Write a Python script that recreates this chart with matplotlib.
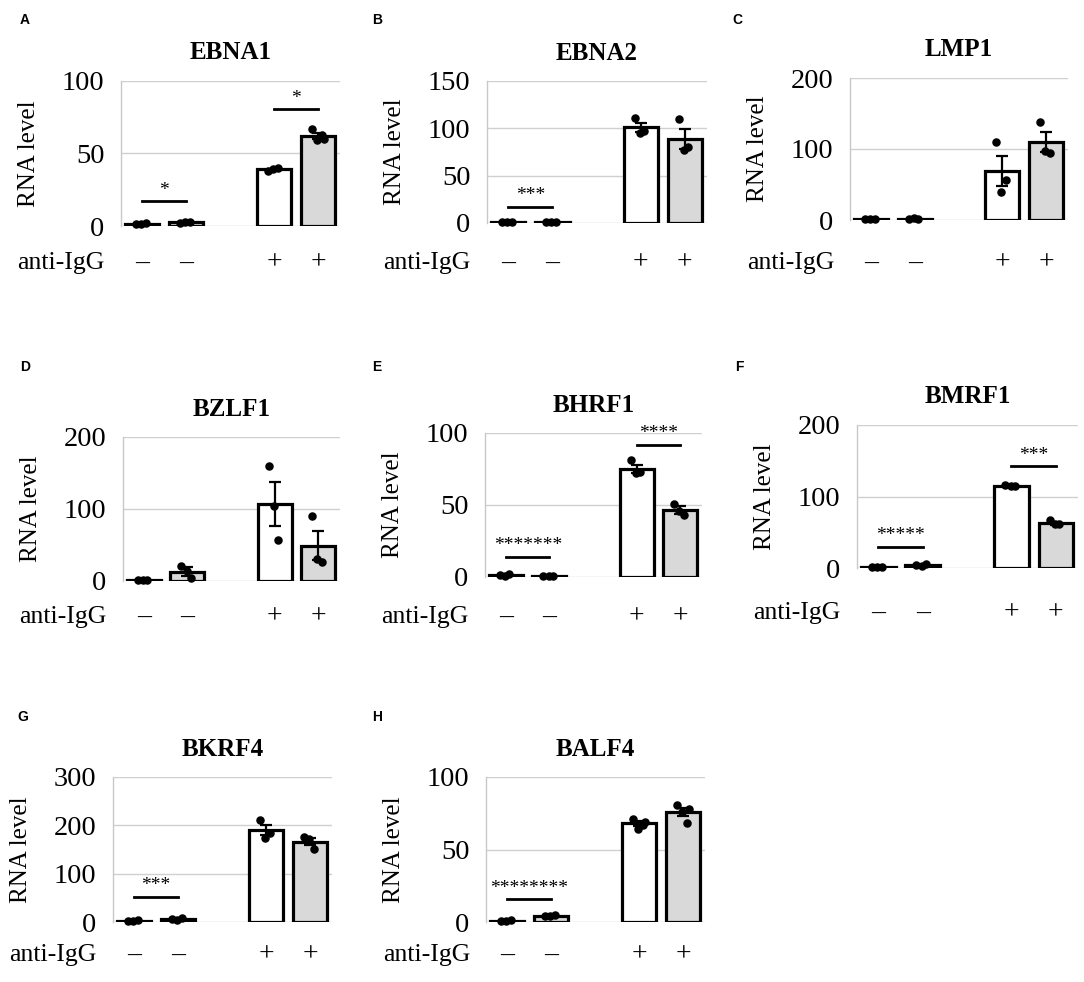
import matplotlib.pyplot as plt
import matplotlib.transforms as mtransforms
import numpy as np

# panel data
genes = ["EBNA1", "EBNA2", "LMP1", "BZLF1", "BHRF1", "BMRF1", "BKRF4", "BALF4"]
letters = ["A", "B", "C", "D", "E", "F", "G", "H"]
y_max = [100, 150, 200, 200, 100, 200, 300, 100]
y_step = [50, 50, 100, 100, 50, 100, 100, 50]
treatment = ["–", "–", "+", "+"]

bar_means = [
    [1.5, 2.5, 39, 62],
    [1, 1, 101, 89],
    [1.5, 2, 69, 110],
    [2, 13, 107, 49],
    [1.5, 0.8, 75, 46.5],
    [2, 4, 115, 62.5],
    [3, 6, 190, 166],
    [1, 4.4, 68, 75.6],
]
bar_sem = [
    [0.2, 0.3, 0.6, 2],
    [0.1, 0.1, 4.5, 10.5],
    [0.2, 0.4, 21, 14],
    [0.3, 6, 30, 20],
    [0.3, 0.1, 2.5, 2.5],
    [0.2, 0.5, 0.8, 2],
    [0.5, 1, 11, 7.5],
    [0.1, 0.5, 1.5, 2.8],
]
dots = [
    [[1.2, 1.8, 1.5], [2.0, 3.0, 2.5], [38, 40, 39], [67, 63, 59, 60]],
    [[1, 1, 1], [1, 1, 1], [111, 97, 95], [110, 80, 77]],
    [[1.5, 1.5, 1.5], [1, 2, 3], [110, 57, 40], [138, 95, 97]],
    [[2, 2, 1], [21, 4, 14], [160, 57, 104], [90, 27, 30]],
    [[1.5, 2, 1], [0.8, 0.8, 0.8], [81, 73, 72], [51, 43, 46]],
    [[2, 2, 2], [4, 5, 3], [116, 114, 115], [67, 62, 61]],
    [[2, 4, 3], [6, 8, 5], [211, 185, 173], [176, 151, 171]],
    [[1, 1.2, 0.8], [4, 5, 4.2], [71, 67, 64, 69], [81, 68, 76, 78]],
]
# significance: stars between bars 1-2 (low) and bars 3-4 (high)
sig_low = ["*", "***", "", "", "*******", "*****", "***", "********"]
sig_low_y = [17, 17, 0, 0, 14, 30, 52, 15.6]
sig_high = ["*", "", "", "", "****", "***", "", ""]
sig_high_y = [80.6, 0, 0, 0, 91.7, 142, 0, 0]

W, H = 1084, 982
fig = plt.figure(figsize=(W / 100, H / 100), dpi=100)
plt.rcParams["font.family"] = ["Liberation Serif", "DejaVu Serif"]

# axes boxes in pixels: left, right, top gridline, zero line
boxes = [
    (121, 340, 81, 226), (487, 707, 81, 223), (850, 1068, 78, 220),
    (123, 340, 437, 581), (485, 702, 433, 577), (857, 1078, 425, 568),
    (113, 332, 777, 922), (486, 705, 777, 922),
]
row_label_y = [263, 263, 263, 617, 617, 613, 955, 955]
letter_xy = [(20, 20), (372, 20), (732, 20), (20, 367), (372, 367),
             (735, 367), (17, 717), (372, 717)]

x_pos = np.array([0, 1, 3, 4])
fills = ["white", "#d9d9d9", "white", "#d9d9d9"]
dot_dx = np.array([-0.14, 0.08, -0.02, 0.13])
px = 72 / 100  # pixels -> points

for i, gene in enumerate(genes):
    l, r, t, b = boxes[i]
    ax = fig.add_axes([l / W, 1 - b / H, (r - l) / W, (b - t) / H])

    ax.bar(x_pos, bar_means[i], width=0.78, color=fills, edgecolor="black",
           linewidth=2.3, zorder=3)
    ax.errorbar(x_pos, bar_means[i], yerr=bar_sem[i], fmt="none", ecolor="black",
                elinewidth=1.6, capsize=4, capthick=1.6, zorder=4)
    for j, vals in enumerate(dots[i]):
        xs = x_pos[j] + dot_dx[:len(vals)]
        ax.scatter(xs, vals, s=26, color="black", zorder=5, clip_on=False)

    # significance bars
    if sig_low[i]:
        ax.plot([0, 1], [sig_low_y[i]] * 2, color="black", lw=2, zorder=4)
        ax.annotate(sig_low[i], xy=(0.5, sig_low_y[i]), xytext=(0, 11 * px),
                    textcoords="offset points", ha="center", va="center",
                    fontsize=14)
    if sig_high[i]:
        ax.plot([3, 4], [sig_high_y[i]] * 2, color="black", lw=2, zorder=4)
        ax.annotate(sig_high[i], xy=(3.5, sig_high_y[i]), xytext=(0, 11 * px),
                    textcoords="offset points", ha="center", va="center",
                    fontsize=14)

    ax.set_xlim(-0.48, 4.5)
    ax.set_ylim(0, y_max[i])
    ax.set_yticks(np.arange(0, y_max[i] + 1, y_step[i]))
    ax.set_xticks([])
    ax.tick_params(axis="y", length=0, labelsize=20.5, pad=12)
    ax.yaxis.grid(True, color="#d0d0d0", lw=1)
    ax.set_axisbelow(True)
    for s in ["top", "right", "bottom"]:
        ax.spines[s].set_visible(False)
    ax.spines["left"].set_color("#c8c8c8")
    ax.spines["left"].set_linewidth(1)

    ax.set_ylabel("RNA level", fontsize=18)
    ax.yaxis.set_label_coords(-81 / (r - l), 0.5)

    ax.annotate(gene, xy=(0.5, 1), xycoords="axes fraction",
                xytext=(0, 28 * px), textcoords="offset points",
                ha="center", va="center", fontsize=18, fontweight="bold")

    # treatment row
    trans = mtransforms.blended_transform_factory(ax.transData, fig.transFigure)
    y_fig = 1 - row_label_y[i] / H
    for xp, sym in zip(x_pos, treatment):
        ax.text(xp, y_fig, sym, transform=trans, ha="center", va="center",
                fontsize=20)
    fig.text((l - 16) / W, y_fig, "anti-IgG", ha="right", va="center",
             fontsize=18.5)

    lx, ly = letter_xy[i]
    fig.text(lx / W, 1 - ly / H, letters[i], ha="left", va="center",
             fontsize=10, fontweight="bold", family="Liberation Sans")

fig.savefig("out.png", dpi=100, facecolor="white")
